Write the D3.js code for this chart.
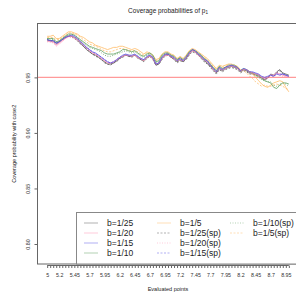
<!DOCTYPE html>
<html lang="en">
<head>
<meta charset="UTF-8">
<script src="https://d3js.org/d3.v7.min.js"></script>
<title>Coverage probabilities</title>
<style>
  body { margin: 0; background: #fff; }
  text { font-family: "Liberation Sans", Arial, sans-serif; }
</style>
</head>
<body>
<div id="chart"></div>
<script>
// evaluated points (x grid)
const points = [5, 5.05, 5.1, 5.15, 5.2, 5.25, 5.3, 5.35, 5.4, 5.45,
  5.5, 5.55, 5.6, 5.65, 5.7, 5.75, 5.8, 5.85, 5.9, 5.95,
  6, 6.05, 6.1, 6.15, 6.2, 6.25, 6.3, 6.35, 6.4, 6.45,
  6.5, 6.55, 6.6, 6.65, 6.7, 6.75, 6.8, 6.85, 6.9, 6.95,
  7, 7.05, 7.1, 7.15, 7.2, 7.25, 7.3, 7.35, 7.4, 7.45,
  7.5, 7.55, 7.6, 7.65, 7.7, 7.75, 7.8, 7.85, 7.9, 7.95,
  8, 8.05, 8.1, 8.15, 8.2, 8.25, 8.3, 8.35, 8.4, 8.45,
  8.5, 8.55, 8.6, 8.65, 8.7, 8.75, 8.8, 8.85, 8.9, 8.95, 9];
const xLabels = ["5", "5.2", "5.45", "5.7", "5.95", "6.2", "6.45", "6.7", "6.95",
  "7.2", "7.45", "7.7", "7.95", "8.2", "8.45", "8.7", "8.95"];
const yTicks = [0.80, 0.85, 0.90, 0.95];

const b25 = [.984, .983, .983, .981, .982, .984, .986, .987, .987, .986,
  .984, .981, .978, .975, .973, .971, .970, .968, .966, .964,
  .962, .962, .963, .965, .967, .969, .970, .969, .969, .970,
  .968, .966, .965, .968, .969, .967, .961, .962, .967, .970,
  .971, .968, .967, .964, .966, .964, .967, .971, .974, .973,
  .970, .968, .965, .963, .960, .957, .954, .958, .956, .958,
  .959, .960, .959, .958, .955, .957, .956, .954, .954, .953,
  .952, .950, .948, .950, .953, .952, .955, .957, .954, .953, .952];
const b20 = [.983, .982, .982, .979, .981, .983, .985, .987, .987, .986,
  .984, .982, .979, .977, .974, .972, .971, .969, .967, .965,
  .963, .963, .964, .966, .968, .969, .970, .970, .969, .970,
  .968, .967, .965, .968, .969, .967, .962, .963, .967, .970,
  .970, .969, .967, .965, .966, .965, .968, .971, .974, .973,
  .970, .968, .966, .964, .961, .957, .955, .958, .957, .958,
  .960, .960, .960, .958, .956, .957, .957, .955, .954, .953,
  .952, .950, .949, .950, .952, .952, .954, .953, .952, .951, .951];
const b15 = [.984, .983, .983, .981, .982, .984, .986, .987, .988, .987,
  .985, .982, .980, .977, .975, .973, .972, .970, .968, .966,
  .964, .963, .964, .966, .968, .970, .971, .970, .970, .971,
  .969, .967, .966, .969, .970, .968, .962, .963, .968, .971,
  .971, .969, .968, .965, .967, .965, .968, .972, .975, .974,
  .971, .969, .966, .965, .961, .958, .955, .959, .957, .959,
  .960, .961, .960, .959, .956, .958, .957, .955, .955, .954,
  .953, .951, .950, .951, .952, .951, .953, .952, .953, .952, .951];
const b10 = [.985, .985, .985, .982, .983, .985, .987, .989, .989, .988,
  .986, .984, .982, .980, .978, .977, .976, .975, .974, .972,
  .971, .971, .971, .972, .973, .975, .975, .974, .973, .974,
  .972, .970, .969, .971, .972, .970, .964, .965, .970, .972,
  .972, .970, .969, .966, .968, .966, .969, .973, .975, .974,
  .972, .970, .967, .965, .962, .959, .956, .960, .958, .959,
  .961, .961, .961, .959, .956, .958, .957, .955, .954, .952,
  .951, .949, .947, .946, .945, .941, .940, .943, .945, .945, .944];
const b5 = [.987, .987, .988, .985, .985, .987, .989, .991, .991, .990,
  .989, .987, .986, .984, .982, .981, .979, .978, .977, .976,
  .975, .976, .977, .977, .978, .978, .977, .976, .975, .976,
  .975, .973, .971, .973, .972, .970, .966, .967, .971, .973,
  .973, .971, .970, .967, .969, .967, .970, .974, .976, .975,
  .973, .971, .969, .967, .964, .961, .958, .961, .960, .961,
  .962, .962, .961, .960, .957, .957, .957, .955, .953, .950,
  .947, .944, .942, .941, .943, .945, .946, .947, .946, .941, .937];
const b25sp = [.983, .983, .982, .980, .982, .984, .985, .987, .987, .985,
  .983, .980, .978, .976, .973, .971, .969, .968, .966, .963,
  .962, .961, .963, .964, .967, .968, .970, .969, .968, .970,
  .967, .966, .964, .967, .969, .966, .961, .962, .966, .969,
  .970, .968, .966, .963, .965, .964, .966, .970, .973, .972,
  .970, .967, .964, .962, .959, .956, .953, .957, .955, .957,
  .958, .959, .958, .957, .954, .956, .955, .953, .953, .952,
  .951, .949, .948, .949, .952, .951, .954, .956, .953, .952, .951];
const b20sp = [.982, .982, .981, .978, .980, .982, .985, .986, .986, .985,
  .983, .981, .978, .976, .974, .972, .970, .969, .967, .965,
  .963, .962, .963, .965, .967, .969, .970, .969, .969, .970,
  .968, .966, .965, .968, .969, .967, .961, .963, .967, .970,
  .970, .968, .967, .964, .966, .964, .967, .971, .974, .973,
  .970, .968, .965, .964, .960, .957, .954, .958, .956, .958,
  .959, .960, .959, .958, .955, .957, .956, .954, .953, .952,
  .951, .949, .948, .949, .952, .951, .953, .952, .951, .950, .950];
const b15sp = [.984, .983, .983, .980, .982, .984, .986, .987, .987, .986,
  .985, .982, .979, .977, .975, .973, .971, .970, .968, .966,
  .964, .963, .964, .966, .968, .969, .970, .970, .969, .970,
  .969, .967, .966, .968, .970, .968, .962, .963, .968, .970,
  .971, .969, .967, .965, .967, .965, .968, .971, .975, .974,
  .971, .968, .966, .964, .961, .958, .955, .958, .957, .959,
  .960, .960, .960, .958, .956, .957, .957, .955, .954, .953,
  .952, .950, .949, .950, .952, .951, .954, .953, .953, .952, .951];
const b10sp = [.985, .984, .984, .982, .983, .985, .987, .988, .989, .988,
  .986, .983, .981, .979, .977, .976, .975, .974, .972, .970,
  .969, .969, .970, .971, .972, .973, .974, .973, .972, .973,
  .971, .969, .968, .970, .971, .969, .963, .964, .969, .971,
  .972, .970, .968, .966, .967, .966, .968, .972, .975, .974,
  .971, .969, .967, .965, .962, .958, .956, .959, .958, .959,
  .960, .961, .960, .959, .956, .957, .957, .955, .953, .951,
  .950, .948, .947, .946, .946, .943, .942, .944, .945, .944, .942];
const b5sp = [.986, .986, .986, .984, .984, .986, .988, .990, .990, .989,
  .988, .986, .984, .982, .980, .979, .978, .977, .975, .974,
  .973, .973, .974, .975, .976, .976, .975, .974, .974, .974,
  .973, .971, .970, .972, .971, .969, .965, .966, .970, .972,
  .972, .970, .969, .966, .968, .966, .969, .973, .975, .974,
  .972, .970, .968, .966, .963, .960, .957, .960, .959, .960,
  .961, .961, .960, .959, .956, .956, .954, .951, .949, .946,
  .944, .942, .943, .942, .942, .943, .944, .943, .942, .940, .939];

const seriesNames = ["b=1/25", "b=1/20", "b=1/15", "b=1/10", "b=1/5",
  "b=1/25(sp)", "b=1/20(sp)", "b=1/15(sp)", "b=1/10(sp)", "b=1/5(sp)"];
const seriesValues = [b25, b20, b15, b10, b5, b25sp, b20sp, b15sp, b10sp, b5sp];

const colors = ["#5a5a5a", "#ff8fb4", "#5b55e6", "#5f9f5f", "#ffbb66",
  "#5a5a5a", "#ff8fb4", "#5b55e6", "#5f9f5f", "#ffbb66"];
const dashes = [null, null, null, null, null, "2,1.5", "1,1.5", "2,1.5", "1,1.5", "2,1.5"];

const width = 296, height = 297;
const plotLeft = 37.5, plotRight = 298.5, plotTop = 23.5, plotBottom = 264;

const x = d3.scaleLinear([4.84, 9.16], [plotLeft, plotRight]);
const y = d3.scaleLinear([0.782, 0.9985], [plotBottom, plotTop]);

const svg = d3.select("#chart").append("svg")
  .attr("width", width)
  .attr("height", height)
  .attr("viewBox", [0, 0, width, height]);

svg.append("rect").attr("width", width).attr("height", height).attr("fill", "#fff");

// reference line at nominal level
svg.append("line")
  .attr("x1", plotLeft).attr("x2", plotRight)
  .attr("y1", y(0.95)).attr("y2", y(0.95))
  .attr("stroke", "#ff9a9a").attr("stroke-width", 1.3);

const line = d3.line().x((d, i) => x(points[i])).y(d => y(d));

// draw sp first, then solid lines on top
const order = [5, 6, 7, 8, 9, 4, 3, 0, 1, 2];
svg.append("g")
  .attr("fill", "none")
  .selectAll("path")
  .data(order)
  .join("path")
  .attr("d", k => line(seriesValues[k]))
  .attr("stroke", k => colors[k])
  .attr("stroke-width", 0.8)
  .attr("stroke-dasharray", k => dashes[k]);

// plot box
svg.append("rect")
  .attr("x", plotLeft).attr("y", plotTop)
  .attr("width", plotRight - plotLeft).attr("height", plotBottom - plotTop)
  .attr("fill", "none").attr("stroke", "#666").attr("stroke-width", 1);

// x axis
const xAxis = d3.axisBottom(x)
  .tickValues(points)
  .tickSizeOuter(0)
  .tickSize(2.5)
  .tickPadding(5)
  .tickFormat(d => {
    const s = String(+d.toFixed(2));
    return xLabels.includes(s) ? s : "";
  });

svg.append("g")
  .attr("transform", `translate(0,${plotBottom + 1.5})`)
  .call(xAxis)
  .call(g => g.select(".domain").remove())
  .call(g => g.append("line")
    .attr("x1", x(points[0])).attr("x2", x(points[points.length - 1]))
    .attr("stroke", "#666"))
  .call(g => g.selectAll(".tick line").attr("stroke", "#666"))
  .call(g => g.selectAll(".tick text")
    .attr("fill", "#333")
    .attr("font-size", 5.3)
    .attr("font-family", "Liberation Sans, Arial, sans-serif"));

// y axis
const yAxis = d3.axisLeft(y)
  .tickValues(yTicks)
  .tickSize(3)
  .tickFormat(d3.format(".2f"));

svg.append("g")
  .attr("transform", `translate(${plotLeft},0)`)
  .call(yAxis)
  .call(g => g.select(".domain").remove())
  .call(g => g.selectAll(".tick line").attr("stroke", "#666"))
  .call(g => g.selectAll(".tick text")
    .attr("fill", "#333")
    .attr("font-size", 5.3)
    .attr("font-family", "Liberation Sans, Arial, sans-serif")
    .attr("text-anchor", "middle")
    .attr("x", null).attr("dy", null)
    .attr("transform", "translate(-8,0) rotate(-90)"));

// titles
const title = svg.append("text")
  .attr("x", (plotLeft + plotRight) / 2).attr("y", 12.5)
  .attr("text-anchor", "middle")
  .attr("font-size", 6.5)
  .attr("fill", "#222")
  .text("Coverage probabilities of p");
title.append("tspan").attr("font-size", 4.5).attr("dy", 1.5).text("1");

svg.append("text")
  .attr("x", (plotLeft + plotRight) / 2).attr("y", 291)
  .attr("text-anchor", "middle")
  .attr("font-size", 5.5)
  .attr("fill", "#222")
  .text("Evaluated points");

svg.append("text")
  .attr("transform", `translate(15.5,${(plotTop + plotBottom) / 2}) rotate(-90)`)
  .attr("text-anchor", "middle")
  .attr("font-size", 5.5)
  .attr("fill", "#222")
  .text("Coverage probability with case2");

// legend
const legend = svg.append("g");
legend.append("rect")
  .attr("x", 76.5).attr("y", 212.5)
  .attr("width", 240).attr("height", plotBottom - 212.5)
  .attr("fill", "#fff").attr("stroke", "#888");

const colX = [84, 157, 230];
const rowY = [223, 233, 243, 253];
const item = legend.selectAll("g")
  .data(seriesNames)
  .join("g")
  .attr("transform", (d, i) => `translate(${colX[Math.floor(i / 4)]},${rowY[i % 4]})`);

item.append("line")
  .attr("x1", 0).attr("x2", 14)
  .attr("stroke", (d, i) => colors[i])
  .attr("stroke-width", 0.6)
  .attr("stroke-opacity", 0.8)
  .attr("stroke-dasharray", (d, i) => dashes[i]);

item.append("text")
  .attr("x", 23).attr("y", 3)
  .attr("font-size", 8.5)
  .attr("fill", "#222")
  .text(d => d);
</script>
</body>
</html>
